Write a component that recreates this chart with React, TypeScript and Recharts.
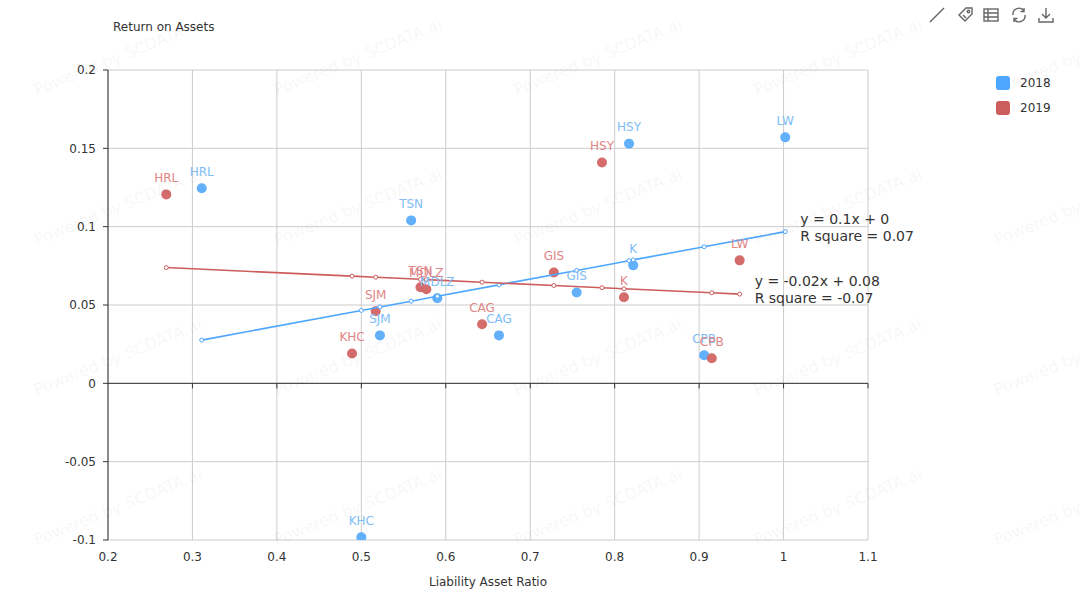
import React from "react";
import {
  ScatterChart,
  Scatter,
  XAxis,
  YAxis,
  CartesianGrid,
  ReferenceLine,
  LabelList,
} from "recharts";

// ---------------------------------------------------------------------------
// Data
// ---------------------------------------------------------------------------

const companies2018 = ["HRL", "TSN", "MDLZ", "SJM", "CAG", "GIS", "K", "HSY", "LW", "CPB", "KHC"];
const liability2018 = [0.311, 0.559, 0.59, 0.522, 0.663, 0.755, 0.822, 0.817, 1.002, 0.906, 0.5];
const roa2018 = [0.1245, 0.104, 0.0543, 0.0306, 0.0306, 0.058, 0.0753, 0.153, 0.157, 0.0179, -0.0983];

const companies2019 = ["HRL", "HSY", "GIS", "LW", "K", "CPB", "CAG", "SJM", "KHC", "TSN", "MDLZ"];
const liability2019 = [0.269, 0.785, 0.728, 0.948, 0.811, 0.915, 0.643, 0.517, 0.489, 0.57, 0.577];
const roa2019 = [0.1206, 0.141, 0.0708, 0.0785, 0.0549, 0.016, 0.0377, 0.046, 0.019, 0.0613, 0.06];

const xTicks = [0.2, 0.3, 0.4, 0.5, 0.6, 0.7, 0.8, 0.9, 1, 1.1];
const yTicks = [-0.1, -0.05, 0, 0.05, 0.1, 0.15, 0.2];

const equation2018 = ["y = 0.1x + 0", "R square = 0.07"];
const equation2019 = ["y = -0.02x + 0.08", "R square = -0.07"];

// ---------------------------------------------------------------------------
// Styling
// ---------------------------------------------------------------------------

const FONT = "'DejaVu Sans', sans-serif";
const BLUE = "#4da6ff";
const BLUE_DOT = "#62affa";
const BLUE_LABEL = "#80bdf5";
const RED = "#cd5c5c";
const RED_DOT = "#d46c6c";
const RED_LABEL = "#df8585";
const AXIS = "#333";
const GRID = "#cccccc";

// ---------------------------------------------------------------------------
// Helpers
// ---------------------------------------------------------------------------

function points(names: string[], xs: number[], ys: number[]) {
  return names.map((name, i) => ({ name, x: xs[i], y: ys[i] }));
}

// least-squares fit evaluated at each observed x, like the original trend line
function fitLine(xs: number[], ys: number[]) {
  const n = xs.length;
  const mx = xs.reduce((a, b) => a + b, 0) / n;
  const my = ys.reduce((a, b) => a + b, 0) / n;
  let sxy = 0;
  let sxx = 0;
  xs.forEach((x, i) => {
    sxy += (x - mx) * (ys[i] - my);
    sxx += (x - mx) * (x - mx);
  });
  const slope = sxy / sxx;
  const icpt = my - slope * mx;
  return [...xs].sort((a, b) => a - b).map((x) => ({ x, y: slope * x + icpt }));
}

const data2018 = points(companies2018, liability2018, roa2018);
const data2019 = points(companies2019, liability2019, roa2019);
const fit2018 = fitLine(liability2018, roa2018);
const fit2019 = fitLine(liability2019, roa2019);

const dotShape = (fill: string) => (p: any) =>
  <circle cx={p.cx} cy={p.cy} r={5} fill={fill} />;

const fitDotShape = (stroke: string) => (p: any) =>
  <circle cx={p.cx} cy={p.cy} r={2} fill="#fff" stroke={stroke} strokeWidth={1} />;

const equationLabel = (lines: string[], last: number) => (p: any) => {
  if (p.index !== last) return null;
  const cx = p.x + (p.width || 0) / 2;
  const cy = p.y + (p.height || 0) / 2;
  return (
    <g>
      {lines.map((l, i) => (
        <text
          key={l}
          x={cx + 15}
          y={cy - 8 + i * 17}
          fontSize={14}
          fill={AXIS}
          fontFamily={FONT}
        >
          {l}
        </text>
      ))}
    </g>
  );
};

function Watermarks() {
  const rows = [62, 212, 362, 512];
  const cols = [120, 360, 600, 840, 1080];
  return (
    <svg width={1080} height={600} style={{ position: "absolute", left: 0, top: 0, pointerEvents: "none" }}>
      {rows.map((ry) =>
        cols.map((cx) => (
          <text
            key={`${ry}-${cx}`}
            x={cx}
            y={ry}
            textAnchor="middle"
            fontSize={16}
            fontFamily={FONT}
            fill="#000"
            fillOpacity={0.05}
            transform={`rotate(-22 ${cx} ${ry})`}
          >
            Powered by SCDATA.ai
          </text>
        ))
      )}
    </svg>
  );
}

function Toolbox() {
  const s = { stroke: "#666", strokeWidth: 1.4, fill: "none" };
  return (
    <svg width={140} height={30} style={{ position: "absolute", left: 925, top: 0 }}>
      <path d="M5 22 L19 8" {...s} />
      <g transform="translate(33 7)">
        <path d="M1 8 L8 1 L14 1 L14 7 L7 14 Z" {...s} />
        <circle cx={10.5} cy={4.5} r={1.2} {...s} />
        <path d="M5 8 L8 11" {...s} />
      </g>
      <g transform="translate(58 8)">
        <rect x={1} y={1} width={14} height={12} {...s} />
        <path d="M1 5 H15 M1 9 H15 M5 1 V13" {...s} />
      </g>
      <g transform="translate(86 7)">
        <path d="M2 8 A6 6 0 0 1 13 4 M14 8 A6 6 0 0 1 3 12" {...s} />
        <path d="M13 1 L13 4.5 L9.5 4.5 M3 15 L3 11.5 L6.5 11.5" {...s} />
      </g>
      <g transform="translate(113 7)">
        <path d="M8 1 V11 M4 7 L8 11 L12 7 M1 11 V15 H15 V11" {...s} />
      </g>
    </svg>
  );
}

function Legend() {
  const items = [
    { label: "2018", color: BLUE },
    { label: "2019", color: RED },
  ];
  return (
    <div style={{ position: "absolute", left: 996, top: 70, fontFamily: FONT, fontSize: 12, color: AXIS }}>
      {items.map((it) => (
        <div key={it.label} style={{ display: "flex", alignItems: "center", height: 25 }}>
          <div style={{ width: 14, height: 14, borderRadius: 3, background: it.color, marginRight: 10 }} />
          <span>{it.label}</span>
        </div>
      ))}
    </div>
  );
}

// ---------------------------------------------------------------------------
// Component
// ---------------------------------------------------------------------------

export default function App() {
  return (
    <div
      style={{
        position: "absolute",
        left: 0,
        top: 0,
        width: 1080,
        height: 600,
        background: "#fff",
        fontFamily: FONT,
        overflow: "hidden",
      }}
    >
      <div style={{ position: "absolute", left: 113, top: 20, fontSize: 12, color: AXIS }}>
        Return on Assets
      </div>
      <div
        style={{ position: "absolute", left: 388, width: 200, textAlign: "center", top: 575, fontSize: 12, color: AXIS }}
      >
        Liability Asset Ratio
      </div>

      <ScatterChart
        width={1080}
        height={600}
        margin={{ top: 70, right: 212, bottom: 30, left: 48 }}
        style={{ position: "absolute", left: 0, top: 0 }}
      >
        <CartesianGrid stroke={GRID} />
        <XAxis
          type="number"
          dataKey="x"
          domain={[0.2, 1.1]}
          ticks={xTicks}
          height={30}
          axisLine={false}
          tickLine={false}
          tickMargin={6}
          tick={{ fontSize: 12, fill: AXIS, fontFamily: FONT }}
          allowDataOverflow
        />
        <YAxis
          type="number"
          dataKey="y"
          domain={[-0.1, 0.2]}
          ticks={yTicks}
          width={60}
          axisLine={{ stroke: AXIS }}
          tickLine={{ stroke: AXIS }}
          tickSize={5}
          tickMargin={7}
          tick={{ fontSize: 12, fill: AXIS, fontFamily: FONT }}
          allowDataOverflow
        />
        <ReferenceLine y={0} stroke={AXIS} strokeWidth={1} />
        {xTicks.slice(1).map((t) => (
          <ReferenceLine
            key={t}
            segment={[{ x: t, y: 0 }, { x: t, y: -0.0032 }]}
            stroke={AXIS}
            ifOverflow="visible"
          />
        ))}

        <Scatter name="2018" data={data2018} shape={dotShape(BLUE_DOT)} isAnimationActive={false}>
          <LabelList dataKey="name" position="top" offset={8} fill={BLUE_LABEL} fontSize={12} fontFamily={FONT} />
        </Scatter>
        <Scatter name="2019" data={data2019} shape={dotShape(RED_DOT)} isAnimationActive={false}>
          <LabelList dataKey="name" position="top" offset={8} fill={RED_LABEL} fontSize={12} fontFamily={FONT} />
        </Scatter>

        <Scatter
          data={fit2018}
          line={{ stroke: BLUE, strokeWidth: 1.6 }}
          lineType="joint"
          shape={fitDotShape(BLUE)}
          isAnimationActive={false}
        >
          <LabelList dataKey="y" content={equationLabel(equation2018, fit2018.length - 1)} />
        </Scatter>
        <Scatter
          data={fit2019}
          line={{ stroke: RED, strokeWidth: 1.6 }}
          lineType="joint"
          shape={fitDotShape(RED)}
          isAnimationActive={false}
        >
          <LabelList dataKey="y" content={equationLabel(equation2019, fit2019.length - 1)} />
        </Scatter>
      </ScatterChart>

      <Watermarks />
      <Toolbox />
      <Legend />
    </div>
  );
}
